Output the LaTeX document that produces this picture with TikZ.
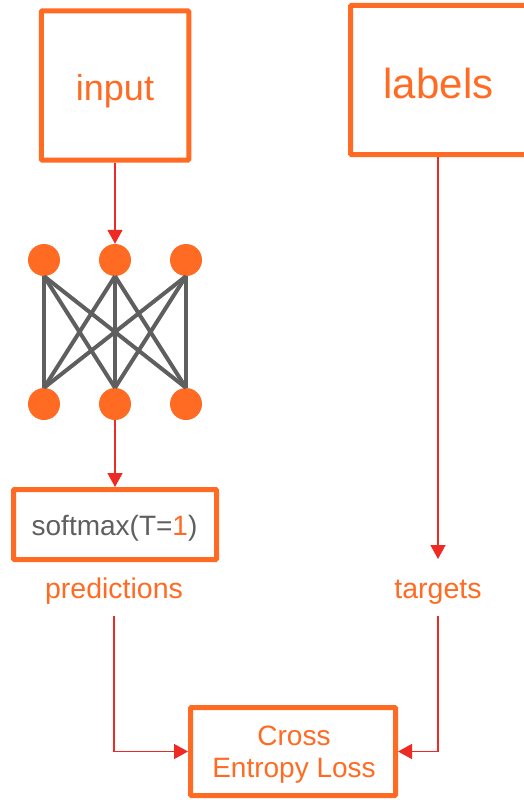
\documentclass[tikz,border=0pt]{standalone}
\usepackage{fontspec}
\setmainfont{Liberation Sans}
\usetikzlibrary{arrows.meta}
\definecolor{brand}{HTML}{FF6B23}
\definecolor{flow}{HTML}{EE2A24}
\definecolor{wire}{HTML}{5F5F5F}
\tikzset{
  box/.style={draw=brand, line width=5pt, rounded corners=1pt, inner sep=0pt},
  neuron/.style={circle, fill=brand, minimum size=32pt, inner sep=0pt},
  edge/.style={draw=wire, line width=4pt},
  flowline/.style={draw=flow, line width=1.5pt, -{Triangle[width=15pt,length=14pt]}},
  lbl/.style={text=brand, anchor=base, inner sep=0pt, font=\fontsize{28}{32}\selectfont}
}
\begin{document}
\begin{tikzpicture}[x=1pt, y=-1pt]
\useasboundingbox (0,0) rectangle (524,800);
\clip (0,0) rectangle (524,800);
\fill[white] (0,0) rectangle (524,800);

% input and labels boxes
\node[box, minimum width=147.5pt, minimum height=149pt] (inbox) at (115,85.5) {};
\node[text=brand, anchor=base, inner sep=0pt, font=\fontsize{36}{40}\selectfont] (intext) at (115,100) {input};
\node[box, minimum width=182pt, minimum height=149pt] (labbox) at (441.5,80) {};
\node[text=brand, anchor=base, inner sep=0pt, font=\fontsize{42}{46}\selectfont] (labtext) at (438.5,98) {labels};

% small network
\foreach \i/\x in {1/44,2/115,3/186} {
  \node[neuron] (t\i) at (\x,260) {};
  \node[neuron] (b\i) at (\x,404) {};
}
\foreach \i in {1,2,3} {
  \foreach \j in {1,2,3} {
    \draw[edge] (t\i.south) -- (b\j.north);
  }
}

% softmax box
\node[box, minimum width=203pt, minimum height=70pt] (soft) at (115,524.5) {};
\node[anchor=base, inner sep=0pt, text=wire, font=\fontsize{28}{32}\selectfont] (softtext) at (114.5,535) {softmax(T=\textcolor{brand}{1})};

% captions
\node[lbl, font=\fontsize{28.5}{32}\selectfont] (pred) at (114,598) {predictions};
\node[lbl, font=\fontsize{28.5}{32}\selectfont] (targ) at (438,598) {targets};

% loss box
\node[box, minimum width=205pt, minimum height=88pt] (loss) at (293,751.5) {};
\node[lbl] (losstop) at (294,745) {Cross};
\node[lbl] (lossbot) at (294,777) {Entropy Loss};

% flow connectors
\coordinate (targtip) at (438,559);
\coordinate (predstart) at (114,616);
\coordinate (targstart) at (438,616);
\draw[flowline] (inbox.south) -- (t2.north);
\draw[flowline] (b2.south) -- (soft.north);
\draw[flowline] (labbox.south -| targtip) -- (targtip);
\draw[flowline] (predstart) |- (loss.west);
\draw[flowline] (targstart) |- (loss.east);
\end{tikzpicture}
\end{document}
